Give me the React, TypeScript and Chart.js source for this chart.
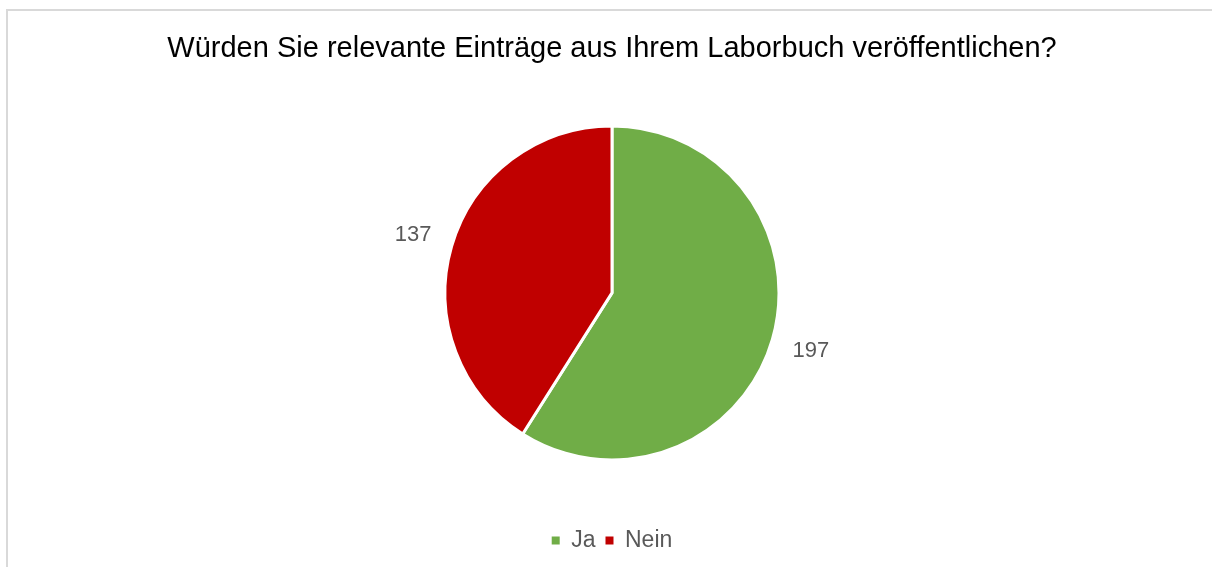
import React, { useEffect, useRef } from "react";
import { Chart, registerables } from "chart.js";

Chart.register(...registerables);

const titleText = "Würden Sie relevante Einträge aus Ihrem Laborbuch veröffentlichen?";
const categories = ["Ja", "Nein"];
const values = [197, 137];
const colors = ["#70AD47", "#C00000"];

const FONT = "'Liberation Sans', Arial, sans-serif";

const outsideLabels = {
  id: "outsideLabels",
  afterDatasetsDraw(chart: any) {
    const ctx = chart.ctx;
    const meta = chart.getDatasetMeta(0);
    const data = chart.data.datasets[0].data;
    ctx.save();
    ctx.font = `22px ${FONT}`;
    ctx.fillStyle = "#595959";
    ctx.textAlign = "center";
    ctx.textBaseline = "middle";
    meta.data.forEach((arc: any, i: number) => {
      const p = arc.getProps(["x", "y", "startAngle", "endAngle", "outerRadius"], true);
      const mid = (p.startAngle + p.endAngle) / 2;
      const d = p.outerRadius + 40;
      ctx.fillText(String(data[i]), p.x + Math.cos(mid) * d, p.y + Math.sin(mid) * d);
    });
    ctx.restore();
  },
};

export default function App() {
  const ref = useRef<HTMLCanvasElement | null>(null);
  useEffect(() => {
    if (!ref.current) return;
    const chart = new Chart(ref.current, {
      type: "pie",
      data: {
        labels: categories,
        datasets: [
          {
            data: values,
            backgroundColor: colors,
            borderColor: "#ffffff",
            borderWidth: 3,
            hoverOffset: 0,
          },
        ],
      },
      options: {
        animation: false,
        responsive: false,
        radius: 167,
        layout: { padding: { bottom: 5 } },
        plugins: {
          title: {
            display: true,
            text: titleText,
            color: "#000000",
            font: { family: FONT, size: 29, weight: "normal" },
            padding: { top: 21, bottom: 0 },
          },
          legend: {
            position: "bottom",
            labels: {
              color: "#595959",
              font: { family: FONT, size: 23 },
              boxWidth: 8,
              boxHeight: 8,
              padding: 10,
              generateLabels(chart: any) {
                const base = Chart.overrides.pie.plugins.legend.labels.generateLabels(chart);
                return base.map((item: any) => ({ ...item, lineWidth: 0, strokeStyle: item.fillStyle }));
              },
            },
          },
          tooltip: { enabled: false },
        },
      },
      plugins: [outsideLabels],
    });
    return () => chart.destroy();
  }, []);
  return (
    <div
      style={{
        position: "fixed",
        left: 6,
        top: 9,
        width: 1220,
        height: 570,
        border: "2px solid #d9d9d9",
        background: "#ffffff",
        boxSizing: "border-box",
      }}
    >
      <canvas ref={ref} width={1208} height={556} style={{ display: "block" }} />
    </div>
  );
}
